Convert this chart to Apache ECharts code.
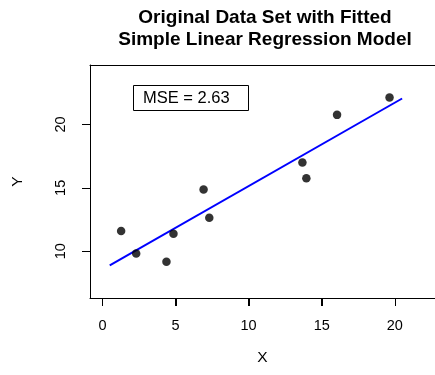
<!DOCTYPE html>
<html>
<head>
<meta charset="utf-8">
<script src="https://cdn.jsdelivr.net/npm/echarts@6/dist/echarts.min.js"></script>
<style>html,body{margin:0;padding:0;background:#fff}#c{width:435px;height:375px}</style>
</head>
<body>
<div id="c"></div>
<script>
// Data
const pointsX = [1.28, 2.31, 4.38, 4.86, 6.92, 7.31, 13.68, 13.95, 16.05, 19.64];
const pointsY = [11.60, 9.82, 9.17, 11.39, 14.87, 12.65, 16.99, 15.76, 20.75, 22.12];
const fitX = [0.5, 20.5];
const fitY = [8.90, 22.04];
const xTicks = [0, 5, 10, 15, 20];
const yTicks = [10, 15, 20];
const titleText = 'Original Data Set with Fitted\nSimple Linear Regression Model';
const mseText = 'MSE = 2.63';

const X_MIN = -0.85, X_MAX = 22.75, Y_MIN = 6.32, Y_MAX = 24.68;
const TICK = 8;
const FONT = '"Liberation Sans", Arial, Helvetica, sans-serif';
const chart = echarts.init(document.getElementById('c'), null, {renderer: 'canvas'});
chart.setOption({
  animation: false,
  title: [
    {
      text: titleText,
      left: 265, top: 7, padding: 0,
      textAlign: 'center',
      textStyle: {fontFamily: FONT, fontWeight: 'bold', fontSize: 19, lineHeight: 22, color: '#000'}
    },
    {
      text: mseText,
      left: 133, top: 86,
      padding: [4, 19, 4, 10],
      borderColor: '#000', borderWidth: 1,
      textStyle: {fontFamily: FONT, fontWeight: 'normal', fontSize: 16.5, lineHeight: 16, color: '#000'}
    }
  ],
  grid: {
    left: 90, top: 65, right: 0, bottom: 77,
    outerBoundsMode: 'none',
    show: false
  },
  xAxis: [
    {
      type: 'value', min: X_MIN, max: X_MAX, position: 'bottom',
      name: 'X', nameLocation: 'middle', nameGap: 52,
      nameTextStyle: {fontFamily: FONT, fontSize: 15.5, color: '#000'},
      axisLine: {show: true, onZero: false, lineStyle: {color: '#000', width: 1}},
      axisTick: {show: true, length: TICK, customValues: xTicks, lineStyle: {color: '#000', width: 1}},
      axisLabel: {customValues: xTicks, margin: 20, fontFamily: FONT, fontSize: 14.5, color: '#000'},
      splitLine: {show: false}
    },
    {
      type: 'value', min: X_MIN, max: X_MAX, position: 'top',
      axisLine: {show: true, onZero: false, lineStyle: {color: '#000', width: 1}},
      axisTick: {show: false}, axisLabel: {show: false}, splitLine: {show: false}
    }
  ],
  yAxis: {
    type: 'value', min: Y_MIN, max: Y_MAX,
    name: 'Y', nameLocation: 'middle', nameGap: 64, nameRotate: 90,
    nameTextStyle: {fontFamily: FONT, fontSize: 15.5, color: '#000'},
    axisLine: {show: true, onZero: false, lineStyle: {color: '#000', width: 1}},
    axisTick: {show: true, length: TICK, customValues: yTicks, lineStyle: {color: '#000', width: 1}},
    axisLabel: {customValues: yTicks, rotate: 90, margin: 22, fontFamily: FONT, fontSize: 14.5, color: '#000'},
    splitLine: {show: false}
  },
  series: [
    {
      type: 'line',
      data: fitX.map((x, i) => [x, fitY[i]]),
      showSymbol: false, symbol: 'none',
      lineStyle: {color: '#0000ff', width: 2},
      z: 2
    },
    {
      type: 'scatter',
      data: pointsX.map((x, i) => [x, pointsY[i]]),
      symbol: 'circle', symbolSize: 8.5,
      itemStyle: {color: '#000'},
      z: 3
    }
  ]
});

// Fallback tick marks placed through the axis scales (overlaps native ticks if they render)
const tickGraphics = [];
xTicks.forEach(v => {
  const p = chart.convertToPixel({xAxisIndex: 0, yAxisIndex: 0}, [v, Y_MIN]);
  const x = Math.round(p[0]) + 0.5, y = Math.round(p[1]);
  tickGraphics.push({type: 'line', z: 100, silent: true,
    shape: {x1: x, y1: y, x2: x, y2: y + TICK}, style: {stroke: '#000', lineWidth: 1}});
});
yTicks.forEach(v => {
  const p = chart.convertToPixel({xAxisIndex: 0, yAxisIndex: 0}, [X_MIN, v]);
  const x = Math.round(p[0]), y = Math.round(p[1]) + 0.5;
  tickGraphics.push({type: 'line', z: 100, silent: true,
    shape: {x1: x - TICK, y1: y, x2: x, y2: y}, style: {stroke: '#000', lineWidth: 1}});
});
chart.setOption({graphic: tickGraphics});
</script>
</body>
</html>
